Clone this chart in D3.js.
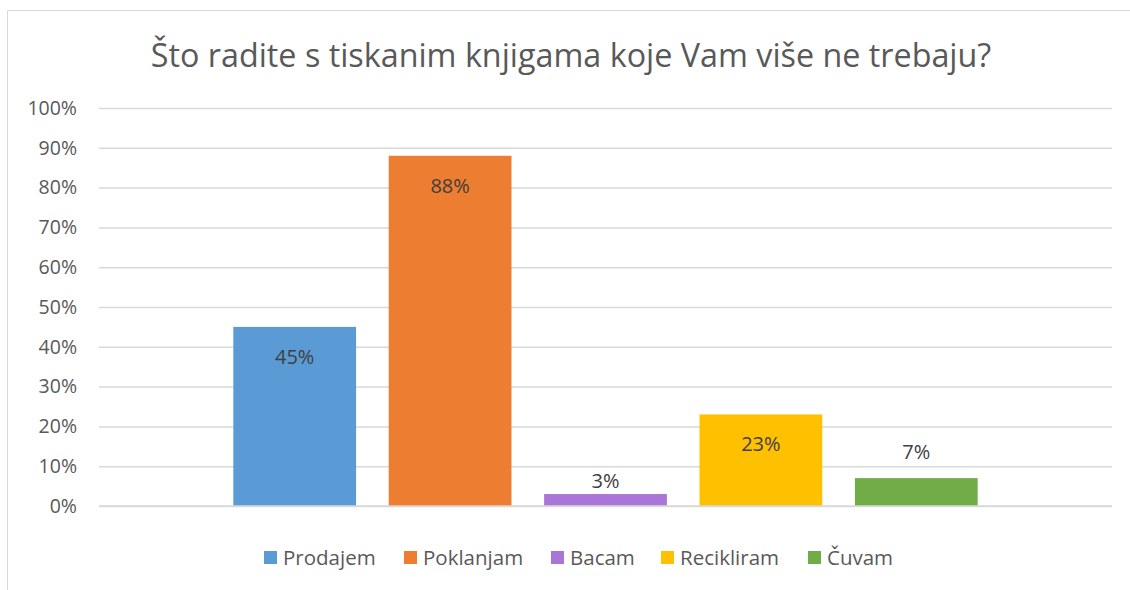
<!DOCTYPE html>
<html>
<head>
<meta charset="utf-8">
<script src="https://cdn.jsdelivr.net/npm/d3@7"></script>
<style>
body { margin: 0; background: #fff; }
text { font-family: "Open Sans", sans-serif; }
</style>
</head>
<body>
<svg width="1130" height="590"></svg>
<script>
// data
var categories = ["Prodajem", "Poklanjam", "Bacam", "Recikliram", "Čuvam"];
var values = [0.45, 0.88, 0.03, 0.23, 0.07];
var colors = ["#5B9BD5", "#ED7D31", "#A975D6", "#FFC000", "#70AD47"];
var yTicks = [0, 0.1, 0.2, 0.3, 0.4, 0.5, 0.6, 0.7, 0.8, 0.9, 1];
var title = "Što radite s tiskanim knjigama koje Vam više ne trebaju?";

var svg = d3.select("svg"),
	plotLeft = 99,
	plotRight = 1112,
	plotTop = 108,
	plotBottom = 506;

// chart border
svg.append("rect")
	.attr("x", 7.5).attr("y", 10.5)
	.attr("width", 1140).attr("height", 600)
	.attr("fill", "none")
	.attr("stroke", "#D9D9D9");

svg.append("text")
	.attr("x", 571).attr("y", 67)
	.attr("text-anchor", "middle")
	.attr("font-size", 32.3)
	.attr("fill", "#595959")
	.text(title);

var y = d3.scaleLinear().domain([0, 1]).range([plotBottom, plotTop]);

// the whole group sits in the middle of the plot
var x = d3.scaleBand()
	.domain(categories)
	.range([233 - 16, 978 + 16])
	.paddingInner(0.21)
	.paddingOuter(0.105);

var yAxis = d3.axisLeft(y)
	.tickValues(yTicks)
	.tickFormat(d3.format(".0%"))
	.tickSize(-(plotRight - plotLeft))
	.tickPadding(22);

var ga = svg.append("g")
	.attr("transform", "translate(" + plotLeft + ",0)")
	.call(yAxis);
ga.select(".domain").remove();
ga.selectAll("line").attr("stroke", "#D9D9D9").attr("stroke-width", 1.5);
ga.selectAll("text")
	.attr("font-size", 19.5)
	.attr("fill", "#595959");

svg.selectAll(".bar")
	.data(values)
	.enter()
	.append("rect")
	.attr("class", "bar")
	.attr("x", function (d, i) { return x(categories[i]); })
	.attr("width", x.bandwidth())
	.attr("y", function (d) { return y(d); })
	.attr("height", function (d) { return y(0) - y(d); })
	.attr("fill", function (d, i) { return colors[i]; });

// baseline on top of bars
svg.append("line")
	.attr("x1", plotLeft).attr("x2", plotRight)
	.attr("y1", y(0)).attr("y2", y(0))
	.attr("stroke", "#D9D9D9").attr("stroke-width", 1.5);

svg.selectAll(".lbl")
	.data(values)
	.enter()
	.append("text")
	.attr("class", "lbl")
	.attr("x", function (d, i) { return x(categories[i]) + x.bandwidth() / 2; })
	.attr("y", function (d) { return d > 0.15 ? y(d) + 37 : y(d) - 6 - (d > 0.05 ? 13 : 0); })
	.attr("text-anchor", "middle")
	.attr("font-size", 20)
	.attr("fill", "#404040")
	.text(function (d) { return d3.format(".0%")(d); });

// legend
var legX = [264, 404, 551, 661, 808];
var leg = svg.selectAll(".leg")
	.data(categories)
	.enter()
	.append("g")
	.attr("class", "leg")
	.attr("transform", function (d, i) { return "translate(" + legX[i] + ",551)"; });

leg.append("rect")
	.attr("width", 13).attr("height", 13)
	.attr("fill", function (d, i) { return colors[i]; });

leg.append("text")
	.attr("x", 19).attr("y", 13.5)
	.attr("font-size", 20.5)
	.attr("fill", "#595959")
	.text(function (d) { return d; });
</script>
</body>
</html>
